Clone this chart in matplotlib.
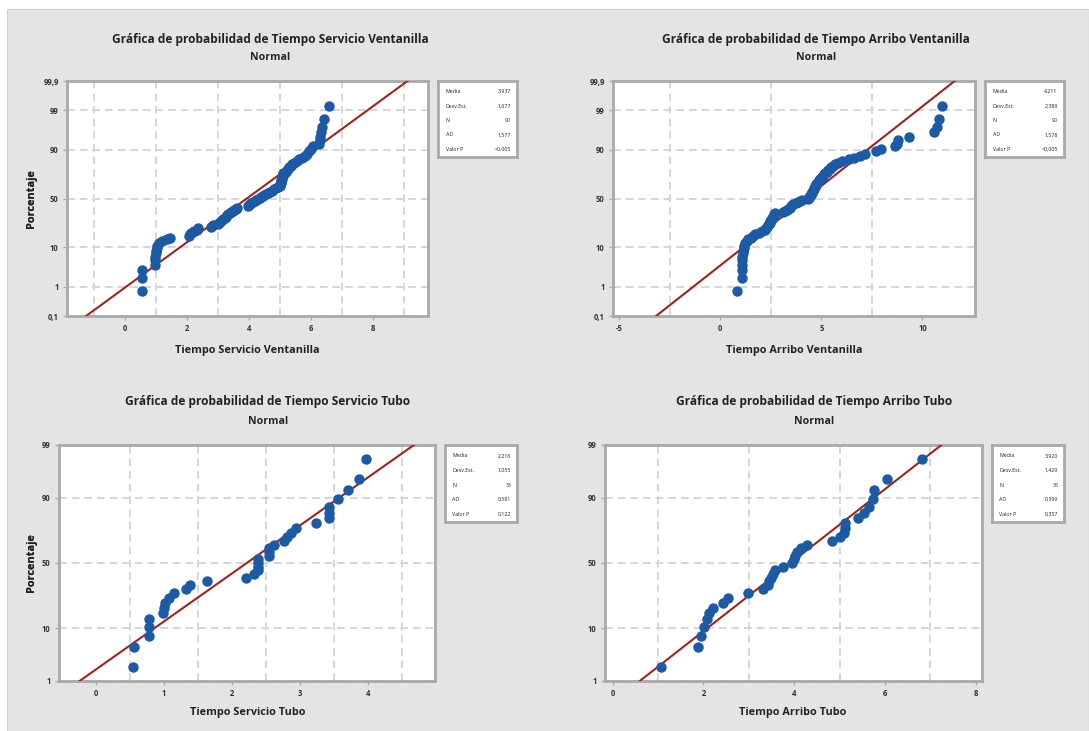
import numpy as np
import matplotlib
matplotlib.use("Agg")
import matplotlib.pyplot as plt
from matplotlib.patches import Rectangle
from statistics import NormalDist

plt.rcParams['font.family'] = ['Open Sans', 'DejaVu Sans']

# ---- data ----
servicio_ventanilla = [0.56, 0.56, 0.56,
                       0.97, 0.98, 0.99, 1.00, 1.02, 1.03, 1.05,
                       1.10, 1.20, 1.35, 1.47,
                       2.06, 2.10, 2.15, 2.25, 2.33, 2.38,
                       2.78, 2.85,
                       3.00, 3.05, 3.10, 3.14, 3.18, 3.22, 3.26, 3.30, 3.34, 3.38, 3.43, 3.48, 3.53, 3.58, 3.62,
                       3.98, 4.00, 4.03, 4.08,
                       4.15, 4.20, 4.25, 4.30, 4.35, 4.40, 4.45, 4.50, 4.55, 4.62, 4.70, 4.75,
                       4.80, 4.88, 4.95,
                       5.00, 5.01, 5.02, 5.03, 5.04, 5.05, 5.06, 5.07, 5.08, 5.09, 5.10, 5.12,
                       5.19, 5.23, 5.27, 5.31, 5.35, 5.40,
                       5.45, 5.55, 5.63, 5.72, 5.80, 5.88,
                       5.95, 6.02, 6.06,
                       6.28, 6.30, 6.31, 6.33, 6.36,
                       6.42, 6.60]

arribo_ventanilla = [0.84,
                     1.06, 1.07, 1.08, 1.09, 1.10, 1.11, 1.13, 1.16, 1.20,
                     1.25, 1.32, 1.40, 1.50, 1.60, 1.72,
                     1.90, 2.05, 2.20,
                     2.25, 2.30, 2.35, 2.40, 2.44, 2.48, 2.52, 2.55, 2.58, 2.61, 2.64, 2.67, 2.70,
                     3.12, 3.20, 3.28, 3.36, 3.44, 3.50, 3.55, 3.62, 3.75, 3.85, 3.95, 4.03,
                     4.36, 4.38, 4.41, 4.44, 4.47, 4.50, 4.53, 4.56, 4.59, 4.62, 4.65, 4.67, 4.69,
                     4.72, 4.76, 4.80, 4.84, 4.88, 4.93, 4.98, 5.03, 5.08, 5.14, 5.20, 5.27, 5.34,
                     5.42, 5.50, 5.60, 5.69,
                     5.85, 6.00,
                     6.35, 6.60, 6.90, 7.15,
                     7.70, 7.95,
                     8.66, 8.72, 8.80,
                     9.32, 10.56, 10.72, 10.80, 10.98]

servicio_tubo = [0.54, 0.56, 0.78, 0.78, 0.78, 0.99, 1.00, 1.02, 1.08, 1.15,
                 1.32, 1.39, 1.64, 2.20, 2.33, 2.38, 2.38, 2.38, 2.38, 2.55,
                 2.55, 2.55, 2.62, 2.77, 2.80, 2.87, 2.94, 3.24, 3.42, 3.42,
                 3.42, 3.56, 3.70, 3.86, 3.97]

arribo_tubo = [1.06, 1.875, 1.95, 2.02, 2.07, 2.13, 2.22, 2.44, 2.55, 2.99,
               3.32, 3.42, 3.45, 3.49, 3.54, 3.57, 3.76, 3.96, 3.99, 4.02,
               4.07, 4.15, 4.28, 4.83, 5.01, 5.09, 5.13, 5.13, 5.40, 5.53,
               5.65, 5.73, 5.76, 6.04, 6.82]

titles = ["Gráfica de probabilidad de Tiempo Servicio Ventanilla",
          "Gráfica de probabilidad de Tiempo Arribo Ventanilla",
          "Gráfica de probabilidad de Tiempo Servicio Tubo",
          "Gráfica de probabilidad de Tiempo Arribo Tubo"]
xlabels = ["Tiempo Servicio Ventanilla", "Tiempo Arribo Ventanilla",
           "Tiempo Servicio Tubo", "Tiempo Arribo Tubo"]

# fitted normal (Media, Desv.Est.)
medias = [3.937, 4.211, 2.216, 3.920]
desv = [1.677, 2.389, 1.055, 1.429]

stat_names = ["Media", "Desv.Est.", "N", "AD", "Valor P"]
stats_sv = ["3,937", "1,677", "90", "1,577", "<0,005"]
stats_av = ["4,211", "2,389", "90", "1,578", "<0,005"]
stats_st = ["2,216", "1,055", "35", "0,581", "0,122"]
stats_at = ["3,920", "1,429", "35", "0,399", "0,357"]

yticks_top = [0.1, 1, 10, 50, 90, 99, 99.9]
yticks_bottom = [1, 10, 50, 90, 99]

# ---- probability scale ----
nd = NormalDist()
_ppf = np.vectorize(nd.inv_cdf, otypes=[float])
_cdf = np.vectorize(nd.cdf, otypes=[float])


def fwd(p):
    p = np.clip(np.asarray(p, dtype=float), 1e-7, 100 - 1e-7)
    return _ppf(p / 100.0)


def inv(z):
    return _cdf(np.asarray(z, dtype=float)) * 100.0


def fmt(v):
    return ("%g" % v).replace(".", ",")


W, H = 1089, 731
fig = plt.figure(figsize=(W / 100, H / 100), dpi=100)
fig.patch.set_facecolor("white")
fig.add_artist(Rectangle((7 / W, 0), 1 - 7 / W, 1 - 9 / H, transform=fig.transFigure,
                         facecolor="#e4e4e4", edgecolor="#d0d0d0", lw=0.8, zorder=-5))

BLUE = "#1c5aa5"
RED = "#a2221e"
FRAME = "#a9a9a9"
GRID = "#d6d6d6"

panels = [
    dict(data=servicio_ventanilla, stats=stats_sv, ax=(67, 428, 81, 316), leg=(438, 517, 81, 157),
         xlim=(-1.86, 9.78), xt=[0, 2, 4, 6, 8], grid=np.arange(-1, 10, 1.0), yt=yticks_top,
         title=(270, 39, 57), xl=(247, 350)),
    dict(data=arribo_ventanilla, stats=stats_av, ax=(613, 975, 81, 316), leg=(985, 1064, 81, 157),
         xlim=(-5.3, 12.6), xt=[-5, 0, 5, 10], grid=np.arange(-5, 11, 2.5), yt=yticks_top,
         title=(816, 39, 57), xl=(794, 350)),
    dict(data=servicio_tubo, stats=stats_st, ax=(59, 435, 445, 681), leg=(445, 517, 445, 522),
         xlim=(-0.54, 4.98), xt=[0, 1, 2, 3, 4], grid=np.arange(0, 4.9, 0.5), yt=yticks_bottom,
         title=(268, 401, 422), xl=(248, 713)),
    dict(data=arribo_tubo, stats=stats_at, ax=(605, 982, 445, 681), leg=(992, 1064, 445, 522),
         xlim=(-0.17, 8.14), xt=[0, 2, 4, 6, 8], grid=np.arange(0, 8.1, 1.0), yt=yticks_bottom,
         title=(814, 401, 422), xl=(793, 713)),
]

for k, p in enumerate(panels):
    x0, x1, y0, y1 = p["ax"]
    ax = fig.add_axes([x0 / W, 1 - y1 / H, (x1 - x0) / W, (y1 - y0) / H])
    ax.set_yscale("function", functions=(fwd, inv))
    lo, hi = p["yt"][0], p["yt"][-1]
    ax.set_ylim(lo, hi)
    ax.set_xlim(*p["xlim"])

    # fitted line
    pp = np.linspace(fwd(lo), fwd(hi), 200)
    ax.plot(medias[k] + desv[k] * pp, inv(pp), color=RED, lw=1.5, zorder=3)

    # data points with median ranks
    x = np.sort(np.array(p["data"]))
    n = len(x)
    ranks = (np.arange(1, n + 1) - 0.3) / (n + 0.4) * 100
    ax.plot(x, ranks, "o", color=BLUE, mec=BLUE, ms=6.5, zorder=4, clip_on=False)

    ax.set_yticks(p["yt"])
    ax.set_yticklabels([fmt(v) for v in p["yt"]])
    ax.yaxis.set_minor_locator(matplotlib.ticker.NullLocator())
    ax.set_xticks(p["xt"])
    ax.set_xticklabels([str(v) for v in p["xt"]])
    ax.set_xticks(p["grid"], minor=True)
    ax.grid(True, which="major", axis="y", color=GRID, lw=1.4, dashes=(4, 2.5), zorder=1)
    ax.grid(True, which="minor", axis="x", color=GRID, lw=1.4, dashes=(4, 2.5), zorder=1)
    ax.tick_params(which="major", length=3, width=1, color=FRAME, labelsize=5.5,
                   labelcolor="#333333", pad=3)
    ax.tick_params(which="minor", length=0)
    for lab in ax.get_xticklabels() + ax.get_yticklabels():
        lab.set_fontweight("bold")
    for s in ax.spines.values():
        s.set_color(FRAME)
        s.set_linewidth(2)
    ax.set_facecolor("white")

    tx, ty1, ty2 = p["title"]
    fig.text(tx / W, 1 - ty1 / H, titles[k], ha="center", va="center", fontsize=8.6,
             fontweight="bold", color="#222222")
    fig.text(tx / W, 1 - ty2 / H, "Normal", ha="center", va="center", fontsize=7.6,
             fontweight="bold", color="#222222")
    fig.text(p["xl"][0] / W, 1 - p["xl"][1] / H, xlabels[k], ha="center", va="center",
             fontsize=7.8, fontweight="bold", color="#222222")
    fig.text(32 / W, 1 - ((y0 + y1) / 2) / H, "Porcentaje", ha="center", va="center",
             rotation=90, fontsize=7.8, fontweight="bold", color="#222222")

    # statistics box
    l0, l1, m0, m1 = p["leg"]
    lg = fig.add_axes([l0 / W, 1 - m1 / H, (l1 - l0) / W, (m1 - m0) / H])
    lg.set_xticks([])
    lg.set_yticks([])
    lg.set_facecolor("white")
    for s in lg.spines.values():
        s.set_color(FRAME)
        s.set_linewidth(2)
    for r, (nm, val) in enumerate(zip(stat_names, p["stats"])):
        yy = 0.86 - r * 0.19
        lg.text(0.1, yy, nm, transform=lg.transAxes, ha="left", va="center", fontsize=3.8,
                color="#222222")
        lg.text(0.92, yy, val, transform=lg.transAxes, ha="right", va="center", fontsize=3.8,
                color="#222222")

fig.savefig("out.png", dpi=100, facecolor=fig.get_facecolor())
